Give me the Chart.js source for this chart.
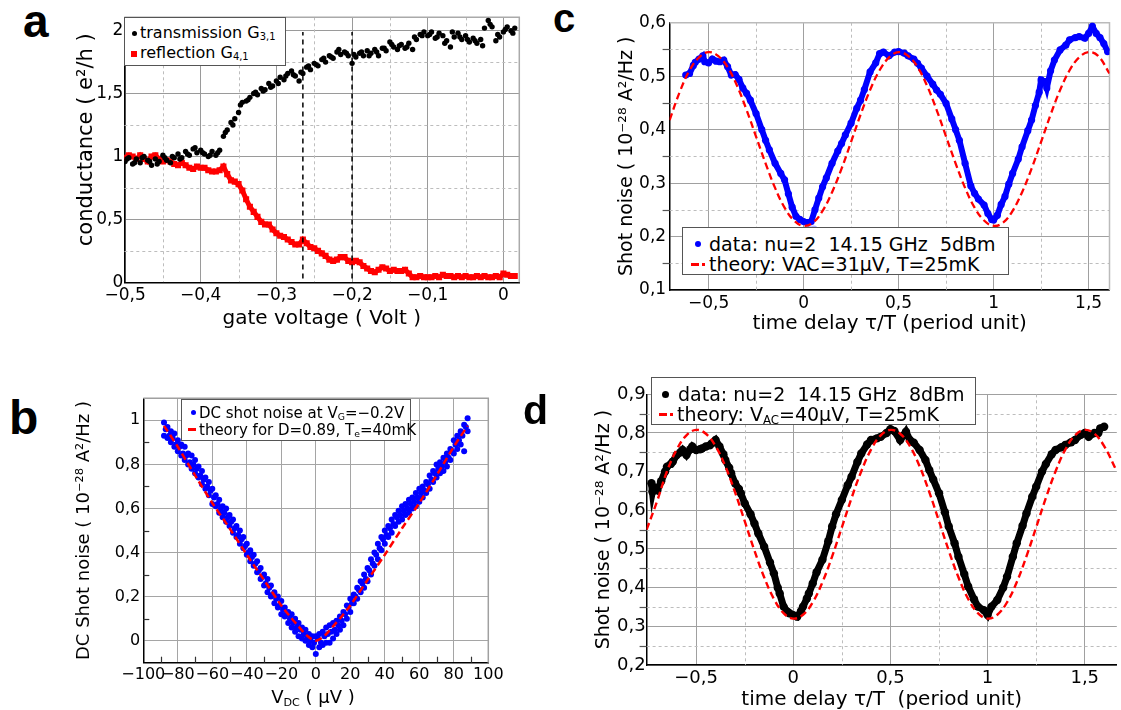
<!DOCTYPE html>
<html><head><meta charset="utf-8">
<script src="https://cdn.jsdelivr.net/npm/chart.js@4.4.1/dist/chart.umd.min.js"></script>
<style>
html,body{margin:0;padding:0;background:#fff;width:1121px;height:710px;overflow:hidden;position:relative;font-family:"DejaVu Sans",sans-serif;}
canvas{position:absolute;}
.let{position:absolute;font-family:"Liberation Sans",Arial,sans-serif;font-weight:bold;line-height:1;color:#000;}
.leg{position:absolute;border:1.5px solid #555;background:#fff;box-sizing:border-box;font-family:"DejaVu Sans",sans-serif;color:#000;}
.leg .t{position:absolute;white-space:pre;}
.leg .m{position:absolute;}
sub{font-size:0.62em;vertical-align:-0.25em;line-height:0;}
.ttl{position:absolute;font-family:"DejaVu Sans",sans-serif;text-align:center;white-space:pre;color:#000;}
</style></head>
<body>
<canvas id="ca"></canvas><canvas id="cb"></canvas><canvas id="cc"></canvas><canvas id="cd"></canvas>

<div class="let" style="left:23px;top:-2px;font-size:46px;">a</div>
<div class="let" style="left:9px;top:394px;font-size:48px;">b</div>
<div class="let" style="left:553px;top:-2px;font-size:40px;">c</div>
<div class="let" style="left:523px;top:390px;font-size:41px;">d</div>

<div class="leg" style="left:124px;top:17px;width:162px;height:49px;font-size:16px;">
  <div class="m" style="left:7px;top:13px;width:5px;height:5px;border-radius:50%;background:#000;"></div>
  <div class="t" style="left:15px;top:5px;line-height:20px;">transmission G<sub>3,1</sub></div>
  <div class="m" style="left:6px;top:33px;width:6px;height:6px;background:#f00;"></div>
  <div class="t" style="left:15px;top:25px;line-height:20px;">reflection G<sub>4,1</sub></div>
</div>

<div class="leg" style="left:181px;top:399px;width:230px;height:42px;font-size:15px;">
  <div class="m" style="left:9px;top:10px;width:5px;height:5px;border-radius:50%;background:#00f;"></div>
  <div class="t" style="left:17px;top:3px;line-height:20px;">DC shot noise at V<sub>G</sub>=−0.2V</div>
  <div class="m" style="left:6px;top:28px;width:8px;height:3px;background:#f00;"></div>
  <div class="t" style="left:17px;top:20px;line-height:20px;">theory for D=0.89, T<sub>e</sub>=40mK</div>
</div>

<div class="leg" style="left:682px;top:227px;width:327px;height:48px;font-size:19px;">
  <div class="m" style="left:12px;top:13px;width:6px;height:6px;border-radius:50%;background:#00f;"></div>
  <div class="t" style="left:26px;top:5px;line-height:22px;">data: nu=2  14.15 GHz  5dBm</div>
  <div class="m" style="left:8px;top:35px;width:8px;height:2.5px;background:#f00;"></div>
  <div class="m" style="left:19px;top:35px;width:3px;height:2.5px;background:#f00;"></div>
  <div class="t" style="left:26px;top:25px;line-height:22px;">theory: VAC=31μV, T=25mK</div>
</div>

<div class="leg" style="left:651px;top:377px;width:325px;height:48px;font-size:19px;">
  <div class="m" style="left:10px;top:13px;width:7px;height:7px;border-radius:50%;background:#000;"></div>
  <div class="t" style="left:26px;top:5px;line-height:22px;">data: nu=2  14.15 GHz  8dBm</div>
  <div class="m" style="left:7px;top:35px;width:8px;height:2.5px;background:#f00;"></div>
  <div class="m" style="left:18px;top:35px;width:3px;height:2.5px;background:#f00;"></div>
  <div class="t" style="left:25px;top:25px;line-height:22px;">theory: V<sub>AC</sub>=40μV, T=25mK</div>
</div>

<div class="ttl" style="left:213px;top:686px;width:200px;font-size:18px;line-height:22px;">V<sub>DC</sub> ( μV )</div>

<script>
// ---------- Panel a : conductance vs gate voltage ----------
const aX = [-0.5,-0.495,-0.49,-0.485,-0.48,-0.475,-0.47,-0.465,-0.46,-0.455,-0.45,-0.445,-0.44,-0.435,-0.43,-0.425,-0.42,-0.415,-0.41,-0.405,-0.4,-0.395,-0.39,-0.385,-0.38,-0.375,-0.37,-0.365,-0.36,-0.355,-0.35,-0.345,-0.34,-0.335,-0.33,-0.325,-0.32,-0.315,-0.31,-0.305,-0.3,-0.295,-0.29,-0.285,-0.28,-0.275,-0.27,-0.265,-0.26,-0.255,-0.25,-0.245,-0.24,-0.235,-0.23,-0.225,-0.22,-0.215,-0.21,-0.205,-0.2,-0.195,-0.19,-0.185,-0.18,-0.175,-0.17,-0.165,-0.16,-0.155,-0.15,-0.145,-0.14,-0.135,-0.13,-0.125,-0.12,-0.115,-0.11,-0.105,-0.1,-0.095,-0.09,-0.085,-0.08,-0.075,-0.07,-0.065,-0.06,-0.055,-0.05,-0.045,-0.04,-0.035,-0.03,-0.025,-0.02,-0.015,-0.01,-0.005,0,0.005,0.01,0.015];
const aTransY = [0.96,0.99,0.94,0.98,0.95,1.00,0.97,0.93,0.98,0.96,
 1.01,0.97,0.95,0.99,1.02,0.99,1.04,1.01,1.06,1.03,
 1.05,1.02,1.00,1.04,1.01,1.05,1.16,1.21,1.27,1.30,
 1.35,1.43,1.44,1.47,1.50,1.49,1.54,1.53,1.58,1.56,
 1.60,1.63,1.61,1.66,1.68,1.64,1.60,1.66,1.71,1.69,
 1.74,1.72,1.77,1.75,1.80,1.78,1.83,1.81,1.83,1.80,
 1.74,1.79,1.82,1.80,1.84,1.82,1.85,1.80,1.86,1.84,
 1.91,1.87,1.85,1.89,1.86,1.90,1.85,1.93,1.97,1.99,
 1.96,1.99,1.94,1.98,1.96,1.92,1.87,1.95,1.98,1.93,
 1.96,1.91,1.94,1.90,1.93,2.02,2.08,2.03,1.92,1.95,
 1.99,2.03,2.00,2.02];
const aTrans2X = [-0.4975,-0.4875,-0.4775,-0.4675,-0.4575,-0.4475,-0.4375,-0.4275,-0.4175,-0.4075,-0.3975,-0.3875,-0.3775,-0.3675,-0.3575,-0.3475,-0.3375,-0.3275,-0.3175,-0.3075,-0.2975,-0.2875,-0.2775,-0.2675,-0.2575,-0.2475,-0.2375,-0.2275,-0.2175,-0.2075,-0.1975,-0.1875,-0.1775,-0.1675,-0.1575,-0.1475,-0.1375,-0.1275,-0.1175,-0.1075,-0.0975,-0.0875,-0.0775,-0.0675,-0.0575,-0.0475,-0.0375,-0.0275,-0.0175,-0.0075,0.0025,0.0125];
const aTrans2Y = [0.98,0.95,0.99,0.96,0.94,0.99,1.00,0.98,1.02,1.07,1.03,1.01,1.03,1.19,1.25,1.41,1.45,1.51,1.52,1.55,1.58,1.64,1.65,1.67,1.72,1.73,1.78,1.79,1.85,1.82,1.81,1.83,1.80,1.83,1.86,1.89,1.88,1.87,1.95,1.96,1.97,1.95,1.90,1.99,1.95,1.93,1.92,1.88,2.05,1.97,2.01,1.98];
const aReflY = [0.99,1.01,1.00,0.98,1.01,0.98,0.96,1.00,1.01,0.98,
 0.96,0.97,0.96,0.94,0.93,0.95,0.93,0.91,0.90,0.92,
 0.91,0.91,0.89,0.88,0.88,0.89,0.92,0.86,0.81,0.80,
 0.78,0.73,0.66,0.60,0.56,0.52,0.48,0.46,0.46,0.42,
 0.39,0.37,0.36,0.34,0.32,0.30,0.30,0.34,0.31,0.28,
 0.27,0.25,0.23,0.21,0.18,0.17,0.18,0.20,0.20,0.17,
 0.16,0.17,0.16,0.13,0.11,0.09,0.08,0.10,0.12,0.11,
 0.09,0.10,0.09,0.09,0.10,0.07,0.04,0.04,0.05,0.04,
 0.04,0.04,0.05,0.04,0.06,0.05,0.05,0.04,0.05,0.04,
 0.05,0.04,0.04,0.05,0.04,0.05,0.04,0.04,0.05,0.04,
 0.07,0.06,0.05,0.05];
const aMarkerX = [-0.265, -0.2];
const aMarkerY = [0.03, 1.99];
const aXTicks = [-0.5,-0.4,-0.3,-0.2,-0.1,0];
const aYTicks = [0,0.5,1,1.5,2];
const aXMinor = [-0.45,-0.35,-0.25,-0.15,-0.05];
const aYMinor = [0.25,0.75,1.25,1.75];

// ---------- Panel b : DC shot noise vs V_DC ----------
const bXEven = [-88,-86,-84,-82,-80,-78,-76,-74,-72,-70,-68,-66,-64,-62,-60,-58,-56,-54,-52,-50,-48,-46,-44,-42,-40,-38,-36,-34,-32,-30,-28,-26,-24,-22,-20,-18,-16,-14,-12,-10,-8,-6,-4,-2,0,2,4,6,8,10,12,14,16,18,20,22,24,26,28,30,32,34,36,38,40,42,44,46,48,50,52,54,56,58,60,62,64,66,68,70,72,74,76,78,80,82,84,86,88];
const bXOdd = [-87,-85,-83,-81,-79,-77,-75,-73,-71,-69,-67,-65,-63,-61,-59,-57,-55,-53,-51,-49,-47,-45,-43,-41,-39,-37,-35,-33,-31,-29,-27,-25,-23,-21,-19,-17,-15,-13,-11,-9,-7,-5,-3,-1,1,3,5,7,9,11,13,15,17,19,21,23,25,27,29,31,33,35,37,39,41,43,45,47,49,51,53,55,57,59,61,63,65,67,69,71,73,75,77,79,81,83,85,87];
const bYUpper = [0.99,0.97,0.95,0.94,0.91,0.89,0.88,0.85,0.84,0.82,
 0.79,0.77,0.74,0.72,0.69,0.66,0.64,0.61,0.60,0.57,
 0.55,0.52,0.50,0.47,0.44,0.41,0.39,0.36,0.33,0.30,
 0.28,0.25,0.22,0.20,0.18,0.15,0.13,0.12,0.10,0.08,
 0.06,0.05,0.03,0.02,0.02,0.03,0.04,0.06,0.07,0.08,
 0.09,0.11,0.13,0.16,0.19,0.21,0.24,0.27,0.30,0.33,
 0.37,0.40,0.44,0.47,0.50,0.52,0.55,0.57,0.59,0.61,
 0.62,0.64,0.65,0.67,0.69,0.70,0.72,0.75,0.77,0.80,
 0.81,0.83,0.85,0.87,0.91,0.93,0.95,0.98,1.01];
const bYLower = [0.93,0.92,0.90,0.88,0.86,0.84,0.82,0.80,0.78,0.76,
 0.74,0.71,0.69,0.66,0.62,0.61,0.58,0.56,0.54,0.52,
 0.49,0.47,0.44,0.42,0.39,0.36,0.34,0.31,0.28,0.25,
 0.22,0.20,0.17,0.15,0.12,0.11,0.08,0.06,0.04,0.02,
 0.01,0.00,-0.02,-0.03,-0.06,-0.03,-0.02,-0.01,-0.01,0.01,
 0.03,0.05,0.07,0.10,0.13,0.17,0.19,0.22,0.24,0.27,
 0.30,0.34,0.37,0.41,0.44,0.47,0.49,0.52,0.54,0.55,
 0.57,0.58,0.60,0.61,0.63,0.65,0.67,0.69,0.72,0.74,
 0.76,0.77,0.79,0.82,0.85,0.87,0.89,0.86,0.95];
const bYMid = [0.96,0.93,0.92,0.89,0.88,0.85,0.84,0.81,0.80,0.78,
 0.75,0.73,0.70,0.68,0.65,0.62,0.60,0.58,0.56,0.54,
 0.51,0.48,0.46,0.43,0.40,0.38,0.35,0.32,0.29,0.26,
 0.24,0.21,0.19,0.16,0.14,0.12,0.10,0.08,0.06,0.05,
 0.03,0.02,0.00,-0.01,0.01,-0.01,0.02,0.03,0.04,0.05,
 0.07,0.09,0.12,0.15,0.17,0.20,0.23,0.26,0.28,0.32,
 0.35,0.39,0.42,0.46,0.48,0.51,0.53,0.56,0.57,0.59,
 0.60,0.62,0.63,0.65,0.67,0.68,0.71,0.73,0.76,0.78,
 0.79,0.81,0.83,0.86,0.89,0.91,0.93,0.97];
const bTheoryX = [-88,-80,-70,-60,-50,-40,-30,-20,-15,-10,-5,0,5,10,15,20,30,40,50,60,70,80,88];
const bTheoryY = [0.975,0.88,0.75,0.625,0.51,0.39,0.275,0.16,0.11,0.065,0.022,0.0,0.022,0.065,0.11,0.16,0.275,0.39,0.51,0.625,0.75,0.88,0.975];
const bXTicks = [-100,-80,-60,-40,-20,0,20,40,60,80,100];
const bYTicks = [0,0.2,0.4,0.6,0.8,1];
const bXMinor = [-90,-70,-50,-30,-10,10,30,50,70,90];
const bYMinor = [0.1,0.3,0.5,0.7,0.9];

// ---------- Panel c : shot noise vs time delay, 5 dBm ----------
const cX = [-0.62,-0.6,-0.58,-0.57,-0.55,-0.53,-0.52,-0.5,-0.48,-0.46,-0.44,-0.42,-0.4,-0.38,-0.36,-0.34,-0.32,-0.3,-0.28,-0.25,-0.22,-0.2,-0.18,-0.15,-0.12,-0.1,-0.08,-0.06,-0.04,-0.02,0,0.02,0.04,0.06,0.08,0.1,0.12,0.15,0.18,0.2,0.22,0.25,0.28,0.3,0.32,0.35,0.38,0.4,0.42,0.45,0.48,0.5,0.53,0.55,0.58,0.6,0.62,0.65,0.68,0.7,0.72,0.75,0.78,0.8,0.82,0.85,0.88,0.9,0.92,0.95,0.97,0.99,1,1.02,1.04,1.06,1.08,1.1,1.13,1.15,1.18,1.2,1.22,1.24,1.25,1.27,1.28,1.3,1.32,1.35,1.38,1.4,1.43,1.45,1.48,1.5,1.52,1.54,1.56,1.58,1.6];
const cY = [0.502,0.505,0.52,0.526,0.532,0.538,0.527,0.525,0.532,0.528,
 0.527,0.53,0.518,0.502,0.503,0.494,0.478,0.468,0.455,0.43,
 0.40,0.38,0.362,0.337,0.318,0.306,0.28,0.255,0.238,0.232,
 0.228,0.226,0.228,0.25,0.272,0.293,0.31,0.337,0.36,0.374,
 0.39,0.412,0.44,0.455,0.475,0.508,0.525,0.542,0.545,0.538,
 0.545,0.546,0.543,0.538,0.532,0.524,0.515,0.50,0.485,0.474,
 0.466,0.449,0.42,0.40,0.38,0.337,0.295,0.281,0.27,0.259,
 0.243,0.232,0.231,0.24,0.26,0.275,0.298,0.318,0.345,0.368,
 0.398,0.418,0.445,0.47,0.493,0.49,0.478,0.51,0.53,0.549,
 0.558,0.568,0.572,0.574,0.571,0.58,0.593,0.58,0.572,0.561,
 0.546];
const cFaintX = [0.03,0.045,0.055];
const cFaintY = [0.213,0.207,0.214];
const cTheoryX = [-0.705,-0.65,-0.6,-0.55,-0.5,-0.45,-0.4,-0.35,-0.3,-0.25,-0.2,-0.15,-0.1,-0.05,0,0.05,0.1,0.15,0.2,0.25,0.3,0.35,0.4,0.45,0.5,0.55,0.6,0.65,0.7,0.75,0.8,0.85,0.9,0.95,1,1.05,1.1,1.15,1.2,1.25,1.3,1.35,1.4,1.45,1.5,1.55,1.61];
const cTheoryY = [0.418,0.472,0.511,0.535,0.545,0.538,0.517,0.482,0.437,0.387,0.337,0.291,0.254,0.23,0.22,0.226,0.248,0.283,0.327,0.377,0.428,0.474,0.511,0.535,0.545,0.538,0.517,0.482,0.437,0.387,0.337,0.291,0.254,0.23,0.22,0.226,0.248,0.283,0.327,0.377,0.428,0.474,0.511,0.535,0.545,0.538,0.505];
const cXTicks = [-0.5,0,0.5,1,1.5];
const cYTicks = [0.1,0.2,0.3,0.4,0.5,0.6];
const cXMinor = [-0.25,0.25,0.75,1.25];
const cYMinor = [0.15,0.25,0.35,0.45,0.55];

// ---------- Panel d : shot noise vs time delay, 8 dBm ----------
const dX = [-0.73,-0.725,-0.72,-0.7,-0.68,-0.66,-0.65,-0.63,-0.62,-0.6,-0.58,-0.57,-0.55,-0.53,-0.52,-0.5,-0.48,-0.47,-0.45,-0.43,-0.42,-0.4,-0.38,-0.36,-0.35,-0.33,-0.32,-0.3,-0.28,-0.27,-0.25,-0.22,-0.2,-0.18,-0.15,-0.12,-0.1,-0.08,-0.07,-0.05,-0.03,-0.02,0,0.02,0.04,0.05,0.07,0.08,0.1,0.12,0.15,0.18,0.2,0.22,0.25,0.28,0.3,0.33,0.35,0.38,0.4,0.43,0.45,0.48,0.5,0.52,0.55,0.57,0.58,0.6,0.62,0.65,0.68,0.7,0.72,0.75,0.78,0.8,0.83,0.85,0.88,0.9,0.93,0.95,0.98,1,1.02,1.05,1.08,1.1,1.13,1.15,1.18,1.2,1.23,1.25,1.28,1.3,1.33,1.35,1.38,1.4,1.43,1.45,1.48,1.5,1.52,1.55,1.57,1.58,1.6];
const dY = [0.67,0.648,0.66,0.652,0.675,0.70,0.713,0.72,0.726,0.743,
 0.75,0.756,0.743,0.758,0.765,0.756,0.758,0.76,0.765,0.768,
 0.773,0.782,0.765,0.745,0.73,0.71,0.696,0.67,0.655,0.644,
 0.618,0.59,0.566,0.54,0.506,0.465,0.437,0.40,0.385,0.351,
 0.338,0.334,0.329,0.325,0.34,0.351,0.372,0.385,0.411,0.44,
 0.472,0.52,0.558,0.59,0.627,0.665,0.687,0.725,0.747,0.77,
 0.782,0.786,0.79,0.80,0.81,0.805,0.782,0.795,0.803,0.782,
 0.775,0.756,0.73,0.704,0.68,0.644,0.595,0.558,0.515,0.48,
 0.435,0.403,0.37,0.351,0.342,0.329,0.351,0.368,0.40,0.428,
 0.48,0.515,0.56,0.592,0.635,0.661,0.70,0.72,0.745,0.756,
 0.763,0.769,0.776,0.782,0.795,0.80,0.79,0.80,0.80,0.812,
 0.816];
const dTheoryX = [-0.755,-0.7,-0.65,-0.6,-0.55,-0.5,-0.45,-0.4,-0.35,-0.3,-0.25,-0.2,-0.15,-0.1,-0.05,0,0.05,0.1,0.15,0.2,0.25,0.3,0.35,0.4,0.45,0.5,0.55,0.6,0.65,0.7,0.75,0.8,0.85,0.9,0.95,1,1.05,1.1,1.15,1.2,1.25,1.3,1.35,1.4,1.45,1.5,1.55,1.6,1.665];
const dTheoryY = [0.55,0.625,0.701,0.757,0.794,0.808,0.798,0.766,0.714,0.647,0.572,0.496,0.427,0.371,0.334,0.32,0.33,0.362,0.414,0.481,0.556,0.632,0.701,0.757,0.794,0.808,0.798,0.766,0.714,0.647,0.572,0.496,0.427,0.371,0.334,0.32,0.33,0.362,0.414,0.481,0.556,0.632,0.701,0.757,0.794,0.808,0.798,0.766,0.701];
const dXTicks = [-0.5,0,0.5,1,1.5];
const dYTicks = [0.2,0.3,0.4,0.5,0.6,0.7,0.8,0.9];
const dXMinor = [-0.25,0.25,0.75,1.25];
const dYMinor = [0.25,0.35,0.45,0.55,0.65,0.75,0.85];

// ---------- helpers ----------
Chart.defaults.font.family = "'DejaVu Sans', sans-serif";
Chart.defaults.color = '#000';
const fmt = v => { const r = Math.round(v * 1000) / 1000; return (r < 0 ? '\u2212' : '') + String(Math.abs(r)).replace('.', ','); };
const pts = (xs, ys) => xs.map((x, i) => ({ x: x, y: ys[i] }));

const framePlugin = {
  id: 'frame',
  beforeDatasetsDraw(chart, args, o) {
    const { ctx, chartArea: a } = chart;
    const sx = chart.scales.x, sy = chart.scales.y;
    ctx.save();
    ctx.beginPath(); ctx.rect(a.left, a.top, a.right - a.left, a.bottom - a.top); ctx.clip();
    ctx.strokeStyle = o.minorColor || '#c0c0c0'; ctx.lineWidth = 1; ctx.setLineDash(o.minorDash || [3, 3]);
    (o.xMinor || []).forEach(v => { const p = Math.round(sx.getPixelForValue(v)) + 0.5; ctx.beginPath(); ctx.moveTo(p, a.top); ctx.lineTo(p, a.bottom); ctx.stroke(); });
    (o.yMinor || []).forEach(v => { const p = Math.round(sy.getPixelForValue(v)) + 0.5; ctx.beginPath(); ctx.moveTo(a.left, p); ctx.lineTo(a.right, p); ctx.stroke(); });
    ctx.restore();
    if (o.frameColor) {
      ctx.save(); ctx.strokeStyle = o.frameColor; ctx.lineWidth = 1.5; ctx.setLineDash([]);
      ctx.beginPath(); ctx.moveTo(a.left, a.top); ctx.lineTo(a.right, a.top); ctx.lineTo(a.right, a.bottom); ctx.stroke(); ctx.restore();
    }
  },
  afterDraw(chart, args, o) {
    const { ctx, chartArea: a } = chart;
    const sx = chart.scales.x, sy = chart.scales.y;
    ctx.save(); ctx.strokeStyle = o.tickColor || '#000'; ctx.lineWidth = 1.2; ctx.setLineDash([]);
    if (o.xTicks) o.xTicks.vals.forEach(v => { const p = Math.round(sx.getPixelForValue(v)) + 0.5; ctx.beginPath(); ctx.moveTo(p, a.bottom); ctx.lineTo(p, a.bottom - o.xTicks.len); ctx.stroke(); });
    if (o.yTicks) o.yTicks.vals.forEach(v => { const p = Math.round(sy.getPixelForValue(v)) + 0.5; ctx.beginPath(); ctx.moveTo(a.left, p); ctx.lineTo(a.left + o.yTicks.len, p); ctx.stroke(); });
    ctx.restore();
  }
};

function build(id, g, datasets, s, frame) {
  const cv = document.getElementById(id);
  cv.style.left = g.left + 'px'; cv.style.top = g.top + 'px';
  cv.width = g.w; cv.height = g.h; cv.style.width = g.w + 'px'; cv.style.height = g.h + 'px';
  return new Chart(cv, {
    type: 'scatter',
    data: { datasets: datasets },
    options: {
      responsive: false, animation: false, events: [],
      layout: { padding: { left: 0, bottom: 0, top: g.t - g.top, right: g.left + g.w - g.r } },
      plugins: { legend: { display: false }, tooltip: { enabled: false }, frame: frame },
      scales: {
        x: {
          type: 'linear', min: s.xmin, max: s.xmax,
          afterBuildTicks: sc => { sc.ticks = s.xt.map(v => ({ value: v })); },
          afterFit: sc => { sc.height = g.top + g.h - g.b; },
          grid: { color: s.grid, lineWidth: 1, drawTicks: false },
          border: { color: '#000', width: 1.5 },
          ticks: { font: { size: s.tfs }, padding: s.xpad, callback: fmt, maxRotation: 0, autoSkip: false, color: '#000' },
          title: { display: !!s.xtitle, text: s.xtitle || '', font: { size: s.xtfs }, padding: { top: 0, bottom: s.xtpad }, color: '#000' }
        },
        y: {
          type: 'linear', min: s.ymin, max: s.ymax,
          afterBuildTicks: sc => { sc.ticks = s.yt.map(v => ({ value: v })); },
          afterFit: sc => { sc.width = g.l - g.left; },
          grid: { color: s.grid, lineWidth: 1, drawTicks: false },
          border: { color: '#000', width: 1.5 },
          ticks: { font: { size: s.tfs }, padding: s.ypad, callback: fmt, autoSkip: false, color: '#000' },
          title: { display: true, text: s.ytitle, font: { size: s.ytfs }, padding: { top: s.ytpad, bottom: 0 }, color: '#000' }
        }
      }
    },
    plugins: [framePlugin]
  });
}

// ---------- Panel a ----------
build('ca', { left: 60, top: 0, w: 470, h: 335, l: 124.3, t: 17.3, r: 519.3, b: 282.3 }, [
  { data: pts([aMarkerX[0], aMarkerX[0]], aMarkerY), showLine: true, borderColor: '#000', borderWidth: 1.5, borderDash: [5, 4], pointRadius: 0, order: 0 },
  { data: pts([aMarkerX[1], aMarkerX[1]], aMarkerY), showLine: true, borderColor: '#000', borderWidth: 1.5, borderDash: [5, 4], pointRadius: 0, order: 0 },
  { data: pts(aX, aTransY), pointRadius: 2.7, backgroundColor: '#000', pointBorderWidth: 0, order: 1 },
  { data: pts(aTrans2X, aTrans2Y), pointRadius: 2.7, backgroundColor: '#000', pointBorderWidth: 0, order: 1 },
  { data: pts(aX, aReflY), showLine: true, borderColor: '#f00', borderWidth: 5, pointStyle: 'rect', pointRadius: 4.3, backgroundColor: '#f00', pointBorderWidth: 0, order: 2 }
], { xmin: -0.501, xmax: 0.021, ymin: 0, ymax: 2.106, xt: aXTicks, yt: aYTicks, grid: '#9a9a9a', tfs: 17, xpad: 3, ypad: 1,
     xtitle: 'gate voltage ( Volt )', xtfs: 20, xtpad: 4, ytitle: '   conductance ( e\u00b2/h )', ytfs: 21, ytpad: 14 },
   { xMinor: aXMinor, yMinor: aYMinor, minorColor: '#bdbdbd', minorDash: [3, 3], frameColor: '#aaaaaa' });

// ---------- Panel b ----------
build('cb', { left: 60, top: 345, w: 470, h: 365, l: 143.3, t: 398.3, r: 488.3, b: 662.7 }, [
  { data: pts(bTheoryX, bTheoryY), showLine: true, borderColor: '#f00', borderWidth: 2.5, borderDash: [7, 4], pointRadius: 0, tension: 0.3, order: 0 },
  { data: pts(bXEven, bYUpper), pointRadius: 3, backgroundColor: '#00f', pointBorderWidth: 0, order: 1 },
  { data: pts(bXEven, bYLower), pointRadius: 3, backgroundColor: '#00f', pointBorderWidth: 0, order: 1 },
  { data: pts(bXOdd, bYMid), pointRadius: 3, backgroundColor: '#00f', pointBorderWidth: 0, order: 1 }
], { xmin: -100, xmax: 100, ymin: -0.1, ymax: 1.1, xt: bXTicks, yt: bYTicks, grid: '#a5a5a5', tfs: 16, xpad: 3, ypad: 3,
     xtitle: '', xtfs: 18, xtpad: 0, ytitle: 'DC Shot noise ( 10\u207b\u00b2\u2078 A\u00b2/Hz )', ytfs: 18, ytpad: 14 },
   { frameColor: '#a0a0a0', xTicks: { vals: bXMinor, len: 6 }, yTicks: { vals: bYMinor, len: 6 }, tickColor: '#333' });

// ---------- Panel c ----------
build('cc', { left: 590, top: 0, w: 531, h: 340, l: 669.6, t: 22.7, r: 1109.5, b: 290 }, [
  { data: pts(cTheoryX, cTheoryY), showLine: true, borderColor: '#f00', borderWidth: 2.3, borderDash: [7, 4], pointRadius: 0, tension: 0.4, order: 0 },
  { data: pts(cX, cY), showLine: true, borderColor: '#00f', borderWidth: 6, pointRadius: 3.6, backgroundColor: '#00f', pointBorderWidth: 0, order: 1 },
  { data: pts(cFaintX, cFaintY), pointRadius: 3.5, backgroundColor: 'rgba(110,110,255,0.55)', pointBorderWidth: 0, order: 2 }
], { xmin: -0.705, xmax: 1.61, ymin: 0.1, ymax: 0.6, xt: cXTicks, yt: cYTicks, grid: '#a0a0a0', tfs: 17, xpad: 3, ypad: 3.5,
     xtitle: 'time delay \u03c4/T (period unit)', xtfs: 20, xtpad: 4, ytitle: 'Shot noise ( 10\u207b\u00b2\u2078 A\u00b2/Hz )', ytfs: 19, ytpad: 26 },
   { xMinor: cXMinor, yMinor: cYMinor, minorColor: '#bdbdbd', minorDash: [3, 3], frameColor: '#bbbbbb', yTicks: { vals: cYMinor, len: -7 }, tickColor: '#555' });

// ---------- Panel d ----------
build('cd', { left: 580, top: 345, w: 541, h: 370, l: 646.6, t: 394.3, r: 1121, b: 665 }, [
  { data: pts(dTheoryX, dTheoryY), showLine: true, borderColor: '#f00', borderWidth: 2.4, borderDash: [7, 4], pointRadius: 0, tension: 0.4, order: 0 },
  { data: pts(dX, dY), showLine: true, borderColor: '#000', borderWidth: 7, pointRadius: 4.2, backgroundColor: '#000', pointBorderWidth: 0, order: 1 }
], { xmin: -0.755, xmax: 1.665, ymin: 0.2, ymax: 0.9, xt: dXTicks, yt: dYTicks, grid: '#a0a0a0', tfs: 18, xpad: 2.5, ypad: 1,
     xtitle: 'time delay \u03c4/T  (period unit)', xtfs: 20, xtpad: 3, ytitle: 'Shot noise ( 10\u207b\u00b2\u2078 A\u00b2/Hz )', ytfs: 19, ytpad: 12.8 },
   { xMinor: dXMinor, yMinor: dYMinor, minorColor: '#bdbdbd', minorDash: [3, 3], yTicks: { vals: dYMinor, len: -7 }, tickColor: '#555' });
</script>
</body></html>
